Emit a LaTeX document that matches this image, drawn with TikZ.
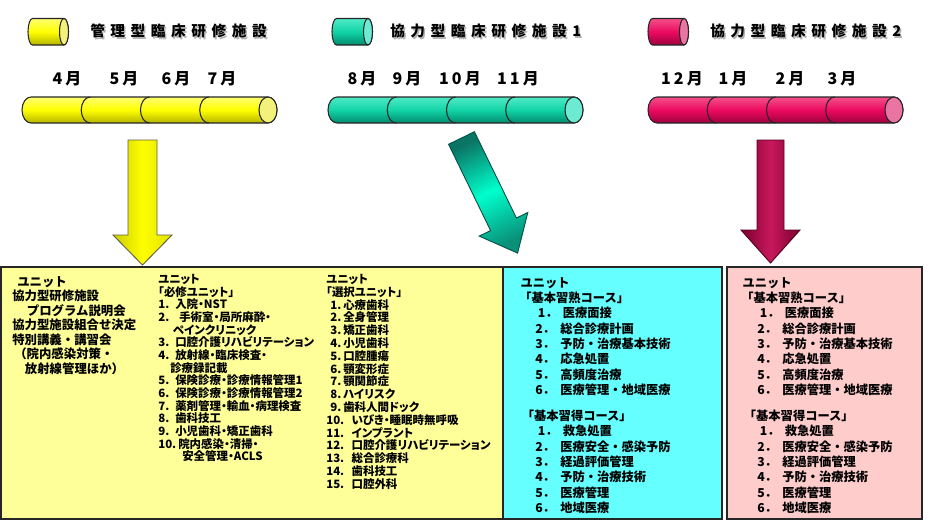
\documentclass[tikz,border=0pt]{standalone}
\usepackage{fontspec}
\setmainfont{Noto Sans CJK JP}[RawFeature=+palt]
\newfontfamily\fullfont{Noto Sans CJK JP}
\newfontfamily\widefont{Noto Sans CJK JP}[LetterSpace=38]
\newfontfamily\monthfont{Noto Sans CJK JP}[LetterSpace=20]

\definecolor{boxyellow}{HTML}{FFFF99}
\definecolor{boxcyan}{HTML}{66FFFF}
\definecolor{boxpink}{HTML}{FFCCCC}
\definecolor{barY}{HTML}{FFFF00}
\definecolor{barYd}{HTML}{B4B400}
\definecolor{barYl}{HTML}{FFFF70}
\definecolor{capY}{HTML}{F2F27A}
\definecolor{barT}{HTML}{12D4A6}
\definecolor{barTd}{HTML}{008A6E}
\definecolor{barTl}{HTML}{4EEAC6}
\definecolor{capT}{HTML}{6CEBD2}
\definecolor{barP}{HTML}{EC0A60}
\definecolor{barPd}{HTML}{9E003E}
\definecolor{barPl}{HTML}{F45089}
\definecolor{capP}{HTML}{EA74A2}
\definecolor{arrTd}{HTML}{0B7565}
\definecolor{arrTb}{HTML}{00FFCC}
\definecolor{arrPd}{HTML}{7A0030}
\definecolor{arrPb}{HTML}{C8185C}

\tikzset{
  panel/.style={draw=black!85, line width=0.9pt},
  barline/.style={draw=black!85, line width=0.8pt},
  facility/.style={font=\widefont\bfseries\fontsize{11}{13}\selectfont, anchor=west, inner sep=0pt},
  month/.style={font=\monthfont\bfseries\fontsize{12}{14}\selectfont, inner sep=0pt},
  unitlist/.style={anchor=north west, inner sep=0pt, align=left}
}

% numbered line of a unit list
\newcommand{\itm}[3][12.75pt]{\makebox[#1][l]{#2}#3}
% course list shared by both cooperating facilities
\newcommand{\courselist}{%
\hspace*{1pt}ユニット\\
「基本習熟コース」\\
\hspace*{14pt}\itm[18.75pt]{1．}{医療面接}\\
\hspace*{12pt}\itm[18.75pt]{2．}{総合診療計画}\\
\hspace*{12pt}\itm[18.75pt]{3．}{予防・治療基本技術}\\
\hspace*{12pt}\itm[18.75pt]{4．}{応急処置}\\
\hspace*{12pt}\itm[18.75pt]{5．}{高頻度治療}\\
\hspace*{12pt}\itm[18.75pt]{6．}{医療管理・地域医療}\\[8pt]
\hspace*{2pt}「基本習得コース」\\
\hspace*{14pt}\itm[18.75pt]{1．}{救急処置}\\
\hspace*{12pt}\itm[18.75pt]{2．}{医療安全・感染予防}\\
\hspace*{12pt}\itm[18.75pt]{3．}{経過評価管理}\\
\hspace*{12pt}\itm[18.75pt]{4．}{予防・治療技術}\\
\hspace*{12pt}\itm[18.75pt]{5．}{医療管理}\\
\hspace*{12pt}\itm[18.75pt]{6．}{地域医療}}

\begin{document}
\begin{tikzpicture}[x=0.75pt,y=0.75pt,yscale=-1,xscale=1]
\useasboundingbox (0,0) rectangle (929,521);

%Shape: Rectangles (unit panels)
\draw[panel, fill=boxyellow] (1,267) rectangle (503,519);
\draw[panel, fill=boxcyan] (503,267) rectangle (722,519);
\draw[panel, fill=boxpink] (727,267) rectangle (922,519);

%Shape: Cylinders (legend)
\foreach \lx/\cl/\cm/\cd/\cc in {32.5/barYl/barY/barYd/capY, 336.5/barTl/barT/barTd/capT, 652.5/barPl/barP/barPd/capP}{
  \shadedraw[barline, top color=\cl, bottom color=\cd, middle color=\cm] (\lx,18.5) -- ({\lx+31.5},18.5) arc[start angle=-90, end angle=90, x radius=4.5, y radius=13.25] -- (\lx,45) arc[start angle=90, end angle=270, x radius=4.5, y radius=13.25] -- cycle;
  \draw[barline, fill=\cc] ({\lx+31.5},31.75) ellipse[x radius=4.5, y radius=13.25];
}

%Shape: Cylinders (month bars)
\foreach \bx/\cl/\cm/\cd/\cc in {31/barYl/barY/barYd/capY, 337/barTl/barT/barTd/capT, 657/barPl/barP/barPd/capP}{
  \shadedraw[barline, top color=\cl, bottom color=\cd, middle color=\cm] (\bx,97) -- ({\bx+237},97) arc[start angle=-90, end angle=90, x radius=9, y radius=13] -- (\bx,123) arc[start angle=90, end angle=270, x radius=9, y radius=13] -- cycle;
  \foreach \k in {1,2,3}
    \draw[barline] ({\bx+59.25*\k},123) arc[start angle=90, end angle=270, x radius=9, y radius=13];
  \draw[barline, fill=\cc] ({\bx+237},110) ellipse[x radius=9, y radius=13];
}

%Shape: Block arrows
\shadedraw[draw=black!70!yellow, line width=0.7pt, left color=yellow!80!black, right color=yellow!88!black, middle color=yellow] (128,140) -- (157,140) -- (157,235) -- (172,235) -- (142.5,265) -- (113,235) -- (128,235) -- cycle;
\shadedraw[draw=arrTd!70!black, line width=0.7pt, top color=arrTd, bottom color=arrTd!80!arrTb, middle color=arrTb, shading angle=26] (448.6,144.3) -- (474.4,131.7) -- (516.4,218.0) -- (527.8,212.5) -- (517.6,253.1) -- (479.2,236.1) -- (490.6,230.6) -- cycle;
\shadedraw[draw=arrPd!70!black, line width=0.7pt, left color=arrPd, right color=arrPd, middle color=arrPb] (757,140) -- (784,140) -- (784,230) -- (800,230) -- (770.5,263) -- (741,230) -- (757,230) -- cycle;

% Text Node (facility titles)
\node[facility, text=black!30] (ttlYs) at (91.5,32.5) {管理型臨床研修施設};
\node[facility] (ttlY) at (90,31) {管理型臨床研修施設};
\node[facility, text=black!30] (ttlTs) at (391.5,32.5) {協力型臨床研修施設1};
\node[facility] (ttlT) at (390,31) {協力型臨床研修施設1};
\node[facility, text=black!30] (ttlPs) at (711.5,32.5) {協力型臨床研修施設2};
\node[facility] (ttlP) at (710,31) {協力型臨床研修施設2};

% Text Node (months)
\node[month] (m4) at (67,79) {4月};
\node[month] (m5) at (124,79) {5月};
\node[month] (m6) at (176,79) {6月};
\node[month] (m7) at (222,79) {7月};
\node[month] (m8) at (362,79) {8月};
\node[month] (m9) at (407,79) {9月};
\node[month] (m10) at (460,79) {10月};
\node[month] (m11) at (518,79) {11月};
\node[month] (m12) at (682,79) {12月};
\node[month] (m1) at (733,79) {1月};
\node[month] (m2) at (790,79) {2月};
\node[month] (m3) at (842,79) {3月};

% Text Node (unit lists)
\node[unitlist, font=\fullfont\bfseries\fontsize{9.3}{10.9}\selectfont] (intro) at (12,276) {%
\hspace*{3.75pt}ユニット\\
協力型研修施設\\
\hspace*{11pt}プログラム説明会\\
協力型施設組合せ決定\\
特別講義・講習会\\
\hspace*{1.5pt}（院内感染対策・\\
\hspace*{9.5pt}放射線管理ほか）};
\node[unitlist, font=\bfseries\fontsize{8.6}{9.5}\selectfont] (required) at (158,274) {%
ユニット\\
「必修ユニット」\\
\itm{1.}{入院・NST}\\
\itm{2.}{\hspace*{3pt}手術室・局所麻酔・}\\
\hspace*{11pt}ペインクリニック\\
\itm{3.}{口腔介護リハビリテーション}\\
\itm{4.}{放射線・臨床検査・}\\
\hspace*{9pt}診療録記載\\
\itm{5.}{保険診療・診療情報管理1}\\
\itm{6.}{保険診療・診療情報管理2}\\
\itm{7.}{薬剤管理・輸血・病理検査}\\
\itm{8.}{歯科技工}\\
\itm{9.}{小児歯科・矯正歯科}\\
\itm[15pt]{10.}{院内感染・清掃・}\\
\hspace*{18pt}安全管理・ACLS};
\node[unitlist, font=\bfseries\fontsize{8.6}{9.6}\selectfont] (elective) at (326,274) {%
ユニット\\
「選択ユニット」\\
\hspace*{3pt}\itm[9.75pt]{1.}{心療歯科}\\
\hspace*{3pt}\itm[9.75pt]{2.}{全身管理}\\
\hspace*{3pt}\itm[9.75pt]{3.}{矯正歯科}\\
\hspace*{3pt}\itm[9.75pt]{4.}{小児歯科}\\
\hspace*{3pt}\itm[9.75pt]{5.}{口腔腫瘍}\\
\hspace*{3pt}\itm[9.75pt]{6.}{顎変形症}\\
\hspace*{3pt}\itm[9.75pt]{7.}{顎関節症}\\
\hspace*{3pt}\itm[9.75pt]{8.}{ハイリスク}\\
\hspace*{3pt}\itm[9.75pt]{9.}{歯科人間ドック}\\
\itm[19pt]{10.}{いびき・睡眠時無呼吸}\\
\itm[19pt]{11.}{インプラント}\\
\itm[19pt]{12.}{口腔介護リハビリテーション}\\
\itm[19pt]{13.}{総合診療科}\\
\itm[19pt]{14.}{歯科技工}\\
\itm[19pt]{15.}{口腔外科}};
\node[unitlist, font=\fullfont\bfseries\fontsize{9.2}{11.5}\selectfont] (basicT) at (519,277) {\courselist};
\node[unitlist, font=\fullfont\bfseries\fontsize{9.2}{11.5}\selectfont] (basicP) at (741,277) {\courselist};

\end{tikzpicture}
\end{document}
